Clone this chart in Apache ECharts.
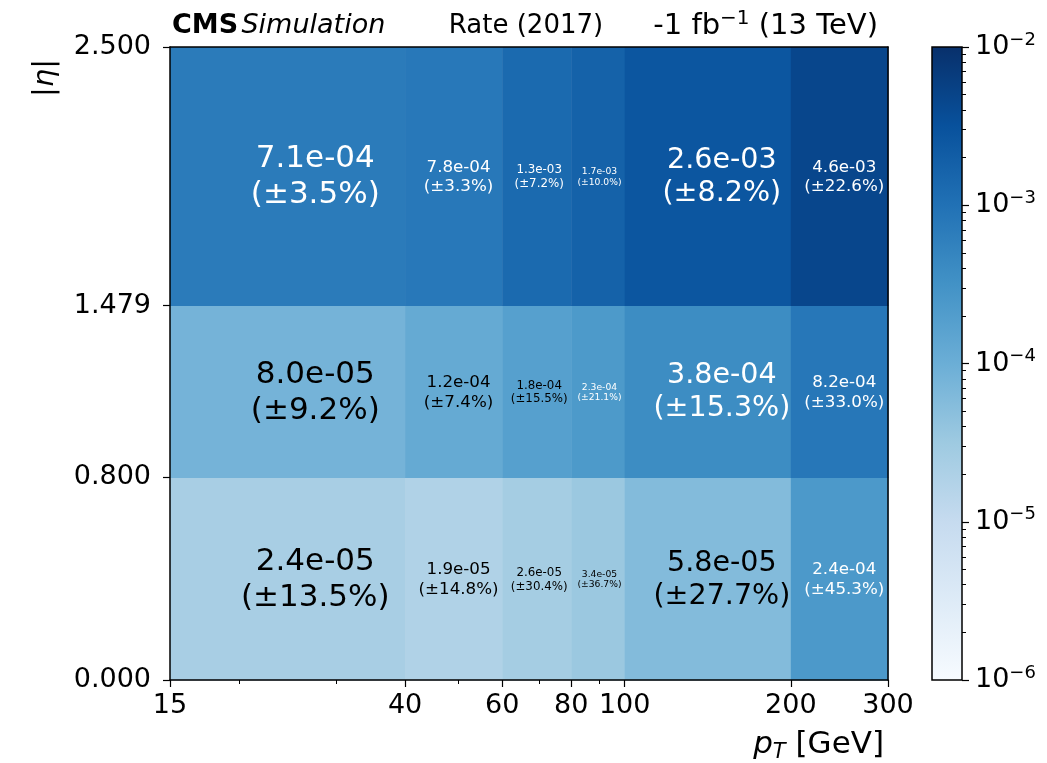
<!DOCTYPE html>
<html>
<head>
<meta charset="utf-8">
<script src="https://cdn.jsdelivr.net/npm/echarts@6/dist/echarts.min.js"></script>
<style>
  html, body { margin: 0; padding: 0; background: #fff; }
  #chart { width: 1047px; height: 763px; }
</style>
</head>
<body>
<div id="chart"></div>
<script>
  // bin edges
  var ptEdges = [15, 40, 60, 80, 100, 200, 300];
  var etaEdges = [0, 0.8, 1.479, 2.5];
  // rate per bin, rows = eta bins (bottom to top)
  var rate = [
    [2.4e-5, 1.9e-5, 2.6e-5, 3.4e-5, 5.8e-5, 2.4e-4],
    [8.0e-5, 1.2e-4, 1.8e-4, 2.3e-4, 3.8e-4, 8.2e-4],
    [7.1e-4, 7.8e-4, 1.3e-3, 1.7e-3, 2.6e-3, 4.6e-3]
  ];
  // relative error in %
  var relErr = [
    [13.5, 14.8, 30.4, 36.7, 27.7, 45.3],
    [9.2, 7.4, 15.5, 21.1, 15.3, 33.0],
    [3.5, 3.3, 7.2, 10.0, 8.2, 22.6]
  ];
  var ptMajorTicks = [15, 40, 60, 80, 100, 200, 300];
  var ptMinorTicks = [20, 30, 50, 70, 90];
  var etaTicks = [0, 0.8, 1.479, 2.5];
  var cbarLimits = [1e-6, 1e-2];
  var cbarMajorTicks = [1e-6, 1e-5, 1e-4, 1e-3, 1e-2];

  var blues = ['#f7fbff', '#deebf7', '#c6dbef', '#9ecae1', '#6baed6', '#4292c6', '#2171b5', '#08519c', '#08306b'];
  var FONT = 'DejaVu Sans';

  var lg = Math.log10;
  var cbarMinorTicks = [];
  for (var n = -6; n < -2; n++) {
    for (var k = 2; k <= 9; k++) cbarMinorTicks.push(k * Math.pow(10, n));
  }

  function fmtExp(v) {
    var parts = v.toExponential(1).split('e');
    var ex = parseInt(parts[1], 10);
    var s = Math.abs(ex) < 10 ? '0' + Math.abs(ex) : '' + Math.abs(ex);
    return parts[0] + 'e' + (ex < 0 ? '-' : '+') + s;
  }

  // [logLo, logHi, etaLo, etaHi, logRate, rate, err, log of linear bin centre]
  var cells = [];
  for (var i = 0; i < etaEdges.length - 1; i++) {
    for (var j = 0; j < ptEdges.length - 1; j++) {
      cells.push([lg(ptEdges[j]), lg(ptEdges[j + 1]), etaEdges[i], etaEdges[i + 1],
                  lg(rate[i][j]), rate[i][j], relErr[i][j], lg((ptEdges[j] + ptEdges[j + 1]) / 2)]);
    }
  }

  function renderCell(params, api) {
    var p0 = api.coord([api.value(0), api.value(2)]);
    var p1 = api.coord([api.value(1), api.value(3)]);
    var tx = api.coord([api.value(7), api.value(2)])[0];
    var w = p1[0] - p0[0], h = p0[1] - p1[1];
    var r = api.value(5), e = api.value(6);
    // text sized to the room left around its centre
    var room = Math.min(w, 2.6 * Math.min(tx - p0[0], p1[0] - tx));
    var fs = Math.min(31, room * 0.172);
    return {
      type: 'group',
      children: [
        { type: 'rect', shape: { x: p0[0], y: p1[1], width: w + 0.5, height: h + 0.5 },
          style: { fill: api.visual('color') } },
        { type: 'text', x: tx, y: p1[1] + h / 2 + 1,
          style: {
            text: fmtExp(r) + '\n(±' + e.toFixed(1) + '%)',
            fontFamily: FONT, fontSize: fs, lineHeight: fs * 1.16,
            fill: r >= 2e-4 ? '#fff' : '#000',
            align: 'center', verticalAlign: 'middle'
          } }
      ]
    };
  }

  function renderBar(params, api) {
    var p0 = api.coord([api.value(0), api.value(2)]);
    var p1 = api.coord([api.value(1), api.value(3)]);
    var stops = blues.map(function (c, idx) { return { offset: idx / (blues.length - 1), color: c }; });
    return {
      type: 'rect',
      shape: { x: p0[0], y: p1[1], width: p1[0] - p0[0], height: p0[1] - p1[1] },
      style: { fill: new echarts.graphic.LinearGradient(0, 1, 0, 0, stops), stroke: '#000', lineWidth: 1.5 }
    };
  }

  var tickLabel = { fontFamily: FONT, fontSize: 27, color: '#000' };

  var chart = echarts.init(document.getElementById('chart'));
  chart.setOption({
    animation: false,
    grid: [
      { left: 170, top: 47, width: 718, height: 633, outerBoundsMode: 'none' },
      { left: 932, top: 47, width: 30, height: 633, outerBoundsMode: 'none' }
    ],
    xAxis: [
      { // main pT axis
        type: 'value', gridIndex: 0, min: lg(ptEdges[0]), max: lg(ptEdges[ptEdges.length - 1]), z: 10,
        axisLine: { show: true, onZero: false, lineStyle: { color: '#000', width: 1.5 } },
        axisTick: { show: true, length: 7, customValues: ptMajorTicks.map(lg), lineStyle: { color: '#000', width: 1.2 } },
        axisLabel: Object.assign({ margin: 12, customValues: ptMajorTicks.map(lg),
          formatter: function (v) { return Math.round(Math.pow(10, v)); } }, tickLabel),
        splitLine: { show: false }
      },
      { // minor ticks
        type: 'value', gridIndex: 0, position: 'bottom', min: lg(ptEdges[0]), max: lg(ptEdges[ptEdges.length - 1]), z: 10,
        axisLine: { show: false, onZero: false },
        axisTick: { show: true, length: 4, customValues: ptMinorTicks.map(lg), lineStyle: { color: '#000', width: 1 } },
        axisLabel: { show: false }, splitLine: { show: false }
      },
      { // top frame
        type: 'value', gridIndex: 0, position: 'top', min: 0, max: 1, z: 10,
        axisLine: { show: true, onZero: false, lineStyle: { color: '#000', width: 1.5 } },
        axisTick: { show: false }, axisLabel: { show: false }, splitLine: { show: false }
      },
      { // colorbar x
        type: 'value', gridIndex: 1, min: 0, max: 1, show: false
      }
    ],
    yAxis: [
      {
        type: 'value', gridIndex: 0, min: etaEdges[0], max: etaEdges[etaEdges.length - 1], z: 10,
        axisLine: { show: true, onZero: false, lineStyle: { color: '#000', width: 1.5 } },
        axisTick: { show: true, length: 7, customValues: etaTicks, lineStyle: { color: '#000', width: 1.2 } },
        axisLabel: Object.assign({ margin: 19, customValues: etaTicks,
          formatter: function (v) { return v.toFixed(3); } }, tickLabel),
        splitLine: { show: false }
      },
      { // right frame
        type: 'value', gridIndex: 0, position: 'right', min: 0, max: 1, z: 10,
        axisLine: { show: true, onZero: false, lineStyle: { color: '#000', width: 1.5 } },
        axisTick: { show: false }, axisLabel: { show: false }, splitLine: { show: false }
      },
      { // colorbar major
        type: 'value', gridIndex: 1, position: 'right', min: lg(cbarLimits[0]), max: lg(cbarLimits[1]), z: 10,
        axisLine: { show: false, onZero: false },
        axisTick: { show: true, length: 7, customValues: cbarMajorTicks.map(lg), lineStyle: { color: '#000', width: 1.2 } },
        axisLabel: {
          margin: 13, customValues: cbarMajorTicks.map(lg),
          formatter: function (v) { return '{b|10}{s|\u2212' + Math.abs(Math.round(v)) + '}'; },
          rich: {
            b: { fontFamily: FONT, fontSize: 27, color: '#000', lineHeight: 32 },
            s: { fontFamily: FONT, fontSize: 18, color: '#000', verticalAlign: 'top', lineHeight: 32 }
          }
        },
        splitLine: { show: false }
      },
      { // colorbar minor
        type: 'value', gridIndex: 1, position: 'right', min: lg(cbarLimits[0]), max: lg(cbarLimits[1]), z: 10,
        axisLine: { show: false, onZero: false },
        axisTick: { show: true, length: 4, customValues: cbarMinorTicks.map(lg), lineStyle: { color: '#000', width: 1 } },
        axisLabel: { show: false }, splitLine: { show: false }
      }
    ],
    visualMap: {
      type: 'continuous', show: false, seriesIndex: 0, dimension: 4,
      min: lg(cbarLimits[0]), max: lg(cbarLimits[1]),
      inRange: { color: blues }
    },
    series: [
      {
        type: 'custom', xAxisIndex: 0, yAxisIndex: 0,
        encode: { x: [0, 1], y: [2, 3] },
        renderItem: renderCell, data: cells
      },
      {
        type: 'custom', xAxisIndex: 3, yAxisIndex: 2,
        encode: { x: [0, 1], y: [2, 3] },
        renderItem: renderBar,
        data: [[0, 1, lg(cbarLimits[0]), lg(cbarLimits[1])]]
      }
    ],
    graphic: [
      { type: 'text', x: 172, y: 26,
        style: { text: '{b|CMS} {i|Simulation}', verticalAlign: 'middle', rich: {
          b: { fontFamily: FONT, fontSize: 27, fontWeight: 'bold', fill: '#000' },
          i: { fontFamily: FONT, fontSize: 27, fontStyle: 'italic', fill: '#000' } } } },
      { type: 'text', x: 526, y: 26,
        style: { text: 'Rate (2017)', fontFamily: FONT, fontSize: 26, fill: '#000', align: 'center', verticalAlign: 'middle' } },
      { type: 'text', x: 878, y: 26,
        style: { text: '-1 fb{s|\u22121} (13 TeV)', fontFamily: FONT, fontSize: 29, fill: '#000', align: 'right', verticalAlign: 'middle',
          rich: { s: { fontFamily: FONT, fontSize: 20, fill: '#000', verticalAlign: 'top', lineHeight: 34 } } } },
      { type: 'text', x: 45, y: 78, rotation: Math.PI / 2,
        style: { text: '|{i|\u03b7}|', fontFamily: FONT, fontSize: 29, fill: '#000', align: 'center', verticalAlign: 'middle',
          rich: { i: { fontFamily: FONT, fontSize: 29, fontStyle: 'italic', fill: '#000' } } } },
      { type: 'text', x: 884, y: 745,
        style: { text: '{i|p}{t|T} [GeV]', fontFamily: FONT, fontSize: 31, fill: '#000', align: 'right', verticalAlign: 'middle',
          rich: {
            i: { fontFamily: FONT, fontSize: 31, fontStyle: 'italic', fill: '#000', lineHeight: 36 },
            t: { fontFamily: FONT, fontSize: 21, fontStyle: 'italic', fill: '#000', verticalAlign: 'bottom', lineHeight: 36 } } } }
    ]
  });
</script>
</body>
</html>
